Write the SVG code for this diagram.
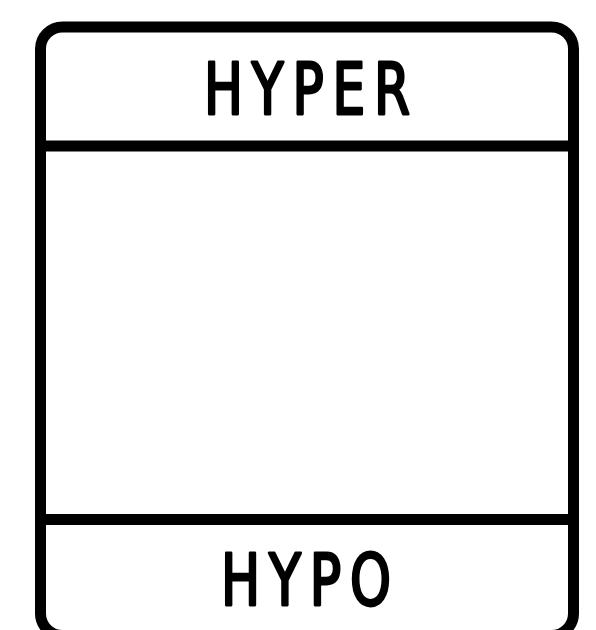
<svg xmlns="http://www.w3.org/2000/svg" width="596" height="630" viewBox="0 0 596 630">
  <style>
    .frame { fill: #ffffff; stroke: #000000; stroke-width: 11; }
    .rule { stroke: #000000; stroke-width: 11; }
    .label { font-family: "DejaVu Sans Condensed", "DejaVu Sans", sans-serif; font-weight: normal; font-size: 71px; fill: #000000; stroke: #000000; stroke-width: 2.8; stroke-linejoin: round; letter-spacing: 11px; }
  </style>
  <rect x="0" y="0" width="596" height="630" fill="#ffffff"/>
  <g id="box">
    <rect class="frame" x="40.5" y="27" width="533" height="608.5" rx="22" ry="22"/>
  </g>
  <g id="dividers">
    <line class="rule" x1="40.5" y1="146" x2="573.5" y2="146"/>
    <line class="rule" x1="40.5" y1="519.5" x2="573.5" y2="519.5"/>
  </g>
  <g id="hyper">
    <text class="label" x="204" y="114" textLength="215" lengthAdjust="spacingAndGlyphs">HYPER</text>
  </g>
  <g id="hypo">
    <text class="label" x="221" y="605" textLength="179" lengthAdjust="spacingAndGlyphs">HYPO</text>
  </g>
</svg>
